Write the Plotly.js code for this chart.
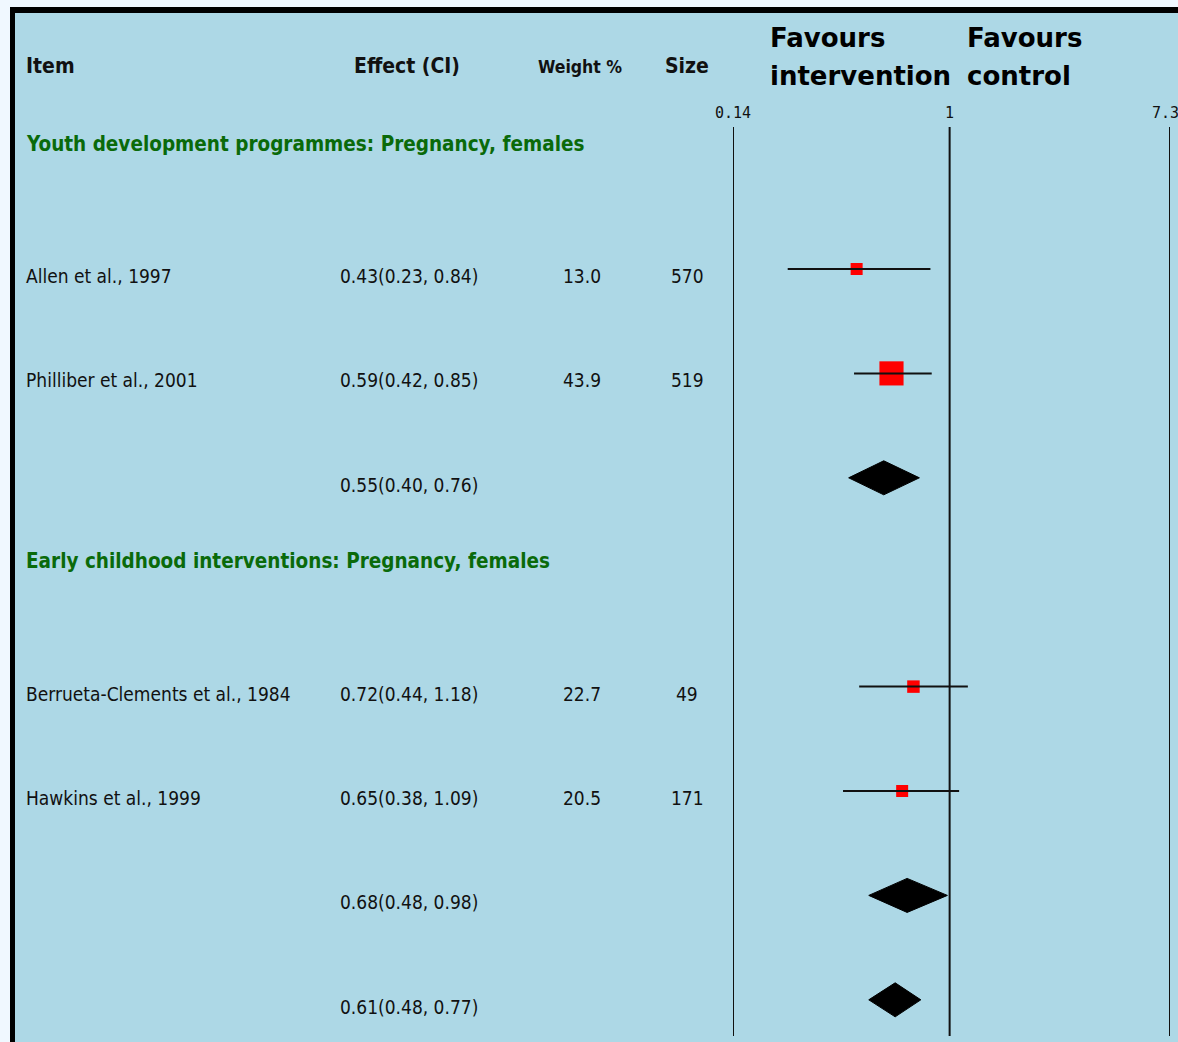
<!DOCTYPE html>
<html>
<head>
<meta charset="utf-8">
<script src="https://cdn.plot.ly/plotly-3.0.1.min.js"></script>
<style>
  html, body { margin: 0; padding: 0; background: #F0F8FF; }
  #chart { width: 1178px; height: 1042px; }
</style>
</head>
<body>
<div id="chart"></div>
<script>
// ---------------- data ----------------
const sectionTitles = [
  'Youth development programmes: Pregnancy, females',
  'Early childhood interventions: Pregnancy, females'
];
const studyLabels = ['Allen et al., 1997', 'Philliber et al., 2001', 'Berrueta-Clements et al., 1984', 'Hawkins et al., 1999'];
const studySection = [0, 0, 1, 1];
const studyEffect = [0.43, 0.59, 0.72, 0.65];
const studyLower  = [0.23, 0.42, 0.44, 0.38];
const studyUpper  = [0.84, 0.85, 1.18, 1.09];
const studyWeight = ['13.0', '43.9', '22.7', '20.5'];
const studySize   = ['570', '519', '49', '171'];

// pooled estimates: one per section, then overall
const pooledEffect = [0.55, 0.68, 0.61];
const pooledLower  = [0.40, 0.48, 0.48];
const pooledUpper  = [0.76, 0.98, 0.77];

const axisTicks = [0.14, 1, 7.39];
const axisTickText = ['0.14', '1', '7.39'];

const columnHeaders = ['Item', 'Effect (CI)', 'Weight %', 'Size'];
const favoursLeft = ['Favours', 'intervention'];
const favoursRight = ['Favours', 'control'];

// ---------------- layout helpers ----------------
const W = 1178, H = 1042;
const px = v => v / W;           // paper x from pixel
const py = v => 1 - v / H;       // paper y from pixel
const fmt = v => v.toFixed(2);

const FAM = 'DejaVu Sans Condensed, Liberation Sans Narrow, DejaVu Sans, sans-serif';
const textFont = {family: FAM, size: 19, color: '#111'};
const headFont = {family: FAM, size: 21, color: '#111', weight: 'bold'};
const greenFont = {family: FAM, size: 20.5, color: '#0a6a0a', weight: 'bold'};
const favFont = {family: 'DejaVu Sans, Liberation Sans, Arial, sans-serif', size: 26, color: '#000', weight: 'bold'};

// assign rows
let cursor = -1;
const studyRow = [], pooledRow = [], headerRow = [];
for (let s = 0; s < sectionTitles.length; s++) {
  headerRow.push(cursor - 0.2);
  cursor++;
  studyLabels.forEach((_, i) => { if (studySection[i] === s) { studyRow.push(cursor); cursor++; } });
  pooledRow.push(cursor);
  cursor++;
}
pooledRow.push(cursor); // overall row directly after last pooled
const textOff = 0.067;
const diamondHalf = 0.163;

// ---------------- traces ----------------
const traces = [];

// reference vertical lines
const lineTop = -1.36, lineBottom = 7.347;
const vx = [], vy = [];
axisTicks.forEach(t => { vx.push(t, t, null); vy.push(lineTop, lineBottom, null); });
traces.push({x: vx, y: vy, mode: 'lines', line: {color: '#111', width: 2}, hoverinfo: 'skip', showlegend: false});

// study squares
traces.push({
  x: studyEffect, y: studyRow, mode: 'markers', type: 'scatter', opacity: 1,
  marker: {symbol: 'square', color: '#ff0000', opacity: 1, size: studyWeight.map(w => Math.max(12, parseFloat(w) * 0.55)), line: {width: 0}},
  showlegend: false, hoverinfo: 'x'
});

// CI lines
const cx = [], cy = [];
studyEffect.forEach((_, i) => { cx.push(studyLower[i], studyUpper[i], null); cy.push(studyRow[i], studyRow[i], null); });
traces.push({x: cx, y: cy, mode: 'lines', line: {color: '#111', width: 2}, showlegend: false, hoverinfo: 'skip'});

// pooled diamonds
pooledEffect.forEach((e, i) => {
  const r = pooledRow[i];
  traces.push({
    x: [pooledLower[i], e, pooledUpper[i], e, pooledLower[i]],
    y: [r, r - diamondHalf, r, r + diamondHalf, r],
    mode: 'lines', fill: 'toself', fillcolor: '#000', line: {color: '#000', width: 1},
    showlegend: false, hoverinfo: 'skip'
  });
});

// ---------------- annotations ----------------
const ann = [];
const colItem = 24, colEffect = 338, colWeight = 582, colSize = 687;

// column headers
ann.push({text: columnHeaders[0], x: px(colItem), y: py(66), xanchor: 'left', font: headFont});
ann.push({text: columnHeaders[1], x: px(352), y: py(66), xanchor: 'left', font: headFont});
ann.push({text: columnHeaders[2], x: px(580), y: py(67), xanchor: 'center', font: Object.assign({}, headFont, {size: 17.5})});
ann.push({text: columnHeaders[3], x: px(colSize), y: py(66), xanchor: 'center', font: headFont});
ann.push({text: favoursLeft[0], x: px(768), y: py(38), xanchor: 'left', font: favFont});
ann.push({text: favoursLeft[1], x: px(768), y: py(76), xanchor: 'left', font: favFont});
ann.push({text: favoursRight[0], x: px(965), y: py(38), xanchor: 'left', font: favFont});
ann.push({text: favoursRight[1], x: px(965), y: py(76), xanchor: 'left', font: favFont});
ann.forEach(a => { a.xref = 'paper'; a.yref = 'paper'; a.yanchor = 'middle'; a.showarrow = false; });

const rowAnn = [];
sectionTitles.forEach((t, s) => rowAnn.push({text: t, x: px(colItem), y: headerRow[s], xanchor: 'left', font: greenFont}));
studyLabels.forEach((l, i) => {
  const y = studyRow[i] + textOff;
  rowAnn.push({text: l, x: px(colItem), y: y, xanchor: 'left', font: textFont});
  rowAnn.push({text: fmt(studyEffect[i]) + '(' + fmt(studyLower[i]) + ', ' + fmt(studyUpper[i]) + ')', x: px(colEffect), y: y, xanchor: 'left', font: textFont});
  rowAnn.push({text: studyWeight[i], x: px(colWeight), y: y, xanchor: 'center', font: textFont});
  rowAnn.push({text: studySize[i], x: px(colSize), y: y, xanchor: 'center', font: textFont});
});
pooledEffect.forEach((e, i) => {
  rowAnn.push({text: fmt(e) + '(' + fmt(pooledLower[i]) + ', ' + fmt(pooledUpper[i]) + ')', x: px(colEffect), y: pooledRow[i] + textOff, xanchor: 'left', font: textFont});
});
rowAnn.forEach(a => { a.xref = 'paper'; a.yref = 'y'; a.yanchor = 'middle'; a.showarrow = false; });

// ---------------- layout ----------------
const layout = {
  width: W, height: H,
  margin: {l: 0, r: 0, t: 0, b: 0, pad: 0},
  paper_bgcolor: '#F0F8FF',
  plot_bgcolor: 'rgba(0,0,0,0)',
  showlegend: false,
  xaxis: {
    type: 'log',
    range: [Math.log10(0.14), Math.log10(7.39)],
    domain: [733 / W, 1170 / W],
    side: 'top',
    tickvals: axisTicks, ticktext: axisTickText,
    ticklabeloverflow: 'allow',
    ticks: '', showgrid: false, zeroline: false, showline: false,
    tickfont: {family: 'DejaVu Sans Mono, monospace', size: 15, color: '#111'},
    fixedrange: true
  },
  yaxis: {
    range: [7.404, -1.408],
    domain: [0, 1 - 122 / H],
    visible: false, showgrid: false, zeroline: false, fixedrange: true
  },
  shapes: [
    {type: 'rect', xref: 'paper', yref: 'paper', x0: px(10), x1: 1.01, y0: -0.01, y1: py(7), fillcolor: '#ADD8E6', line: {width: 0}, layer: 'below'},
    {type: 'rect', xref: 'paper', yref: 'paper', x0: px(10), x1: 1.01, y0: py(13), y1: py(7), fillcolor: '#000', line: {width: 0}, layer: 'below'},
    {type: 'rect', xref: 'paper', yref: 'paper', x0: px(10), x1: px(15), y0: -0.01, y1: py(7), fillcolor: '#000', line: {width: 0}, layer: 'below'}
  ],
  annotations: ann.concat(rowAnn)
};

Plotly.newPlot('chart', traces, layout, {displayModeBar: false, staticPlot: true});
</script>
</body>
</html>
